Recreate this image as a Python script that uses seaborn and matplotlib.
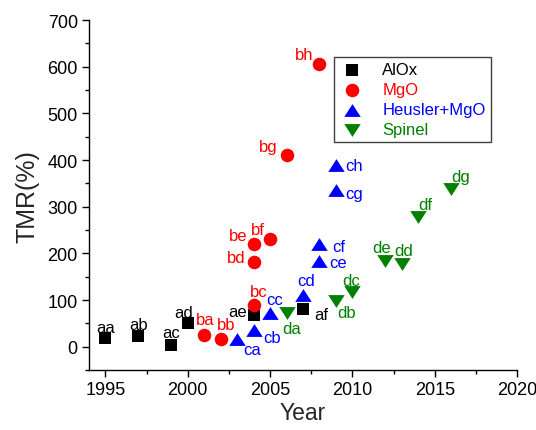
import matplotlib
matplotlib.use("Agg")
import matplotlib.pyplot as plt
from matplotlib.ticker import MultipleLocator
import seaborn as sns
import pandas as pd

# Tunnel magnetoresistance records by barrier type
alox_year = [1995, 1997, 1999, 2000, 2004, 2007]
alox_tmr = [18, 22, 3, 50, 69, 80]
alox_lab = ["aa", "ab", "ac", "ad", "ae", "af"]

mgo_year = [2001, 2002, 2004, 2004, 2004, 2005, 2006, 2008]
mgo_tmr = [26, 17, 89, 181, 220, 231, 411, 605]
mgo_lab = ["ba", "bb", "bc", "bd", "be", "bf", "bg", "bh"]

heusler_year = [2003, 2004, 2005, 2007, 2008, 2008, 2009, 2009]
heusler_tmr = [16, 35, 73, 111, 184, 220, 335, 390]
heusler_lab = ["ca", "cb", "cc", "cd", "ce", "cf", "cg", "ch"]

spinel_year = [2006, 2009, 2010, 2012, 2013, 2014, 2016]
spinel_tmr = [72, 98, 117, 184, 177, 278, 338]
spinel_lab = ["da", "db", "dc", "de", "dd", "df", "dg"]

groups = ["AlOx", "MgO", "Heusler+MgO", "Spinel"]

# label centre offsets from each marker, in pixels (dx right, dy up)
offsets = {
    "aa": (0, 11), "ab": (0, 12), "ac": (0, 13), "ad": (-4, 11),
    "ae": (-16, 3), "af": (18, -5),
    "ba": (1, 15), "bb": (5, 14), "bc": (5, 14), "bd": (-17, 5),
    "be": (-15, 9), "bf": (-12, 9), "bg": (-18, 8), "bh": (-15, 10),
    "ca": (15, -10), "cb": (18, -7), "cc": (5, 13), "cd": (3, 14),
    "ce": (19, -2), "cf": (19, -2), "cg": (18, -3), "ch": (18, -1),
    "da": (5, -15), "db": (11, -11), "dc": (-1, 12), "de": (-4, 13),
    "dd": (2, 14), "df": (7, 13), "dg": (9, 13),
}

palette = {"AlOx": "#000000", "MgO": "#FF0000",
           "Heusler+MgO": "#0000FF", "Spinel": "#008000"}
# slightly flattened triangles
tri_up = [(-1, -0.78), (1, -0.78), (0, 0.78)]
tri_down = [(-1, 0.78), (1, 0.78), (0, -0.78)]
markers = {"AlOx": "s", "MgO": "o", "Heusler+MgO": tri_up, "Spinel": tri_down}
marker_area = {"AlOx": 72, "MgO": 95, "Heusler+MgO": 140, "Spinel": 140}

df = pd.concat([
    pd.DataFrame({"Year": alox_year, "TMR": alox_tmr, "label": alox_lab, "Barrier": "AlOx"}),
    pd.DataFrame({"Year": mgo_year, "TMR": mgo_tmr, "label": mgo_lab, "Barrier": "MgO"}),
    pd.DataFrame({"Year": heusler_year, "TMR": heusler_tmr, "label": heusler_lab, "Barrier": "Heusler+MgO"}),
    pd.DataFrame({"Year": spinel_year, "TMR": spinel_tmr, "label": spinel_lab, "Barrier": "Spinel"}),
], ignore_index=True)

sns.set_style("ticks")
plt.rcParams["font.family"] = ["Liberation Sans", "DejaVu Sans"]

fig = plt.figure(figsize=(5.36, 4.31), dpi=100)
ax = fig.add_axes([0.166, 0.139, 0.7986, 0.812])

for g in groups:
    sub = df[df["Barrier"] == g]
    sns.scatterplot(data=sub, x="Year", y="TMR", color=palette[g],
                    marker=markers[g], s=marker_area[g], linewidth=0,
                    ax=ax, label=g, zorder=3)

for _, r in df.iterrows():
    dx, dy = offsets[r["label"]]
    ax.annotate(r["label"], (r["Year"], r["TMR"]), xytext=(dx, dy),
                textcoords="offset pixels", ha="center", va="center",
                fontsize=12, color=palette[r["Barrier"]], zorder=4)

ax.set_xlim(1994, 2020)
ax.set_ylim(-50, 700)
ax.xaxis.set_major_locator(MultipleLocator(5))
ax.xaxis.set_minor_locator(MultipleLocator(2.5))
ax.yaxis.set_major_locator(MultipleLocator(100))
ax.yaxis.set_minor_locator(MultipleLocator(50))
ax.tick_params(which="major", length=5, width=1, labelsize=13, color="black",
               labelcolor="black", pad=3)
ax.tick_params(which="minor", length=3, width=1, color="black")
for s in ["left", "bottom"]:
    ax.spines[s].set_color("black")
    ax.spines[s].set_linewidth(1)
sns.despine(ax=ax)

ax.set_xlabel("Year", fontsize=16.5, labelpad=2)
ax.set_ylabel("TMR(%)", fontsize=18, labelpad=6)

leg = ax.legend(loc="upper left", bbox_to_anchor=(0.572, 0.894), frameon=True,
                fancybox=False, edgecolor="#404040", fontsize=12,
                handletextpad=1.0, borderpad=0.3, labelspacing=0.3,
                handlelength=1.6, borderaxespad=0, framealpha=1)
leg.get_frame().set_linewidth(1)
for txt in leg.get_texts():
    txt.set_color(palette[txt.get_text()])

fig.savefig("out.png", dpi=100)
